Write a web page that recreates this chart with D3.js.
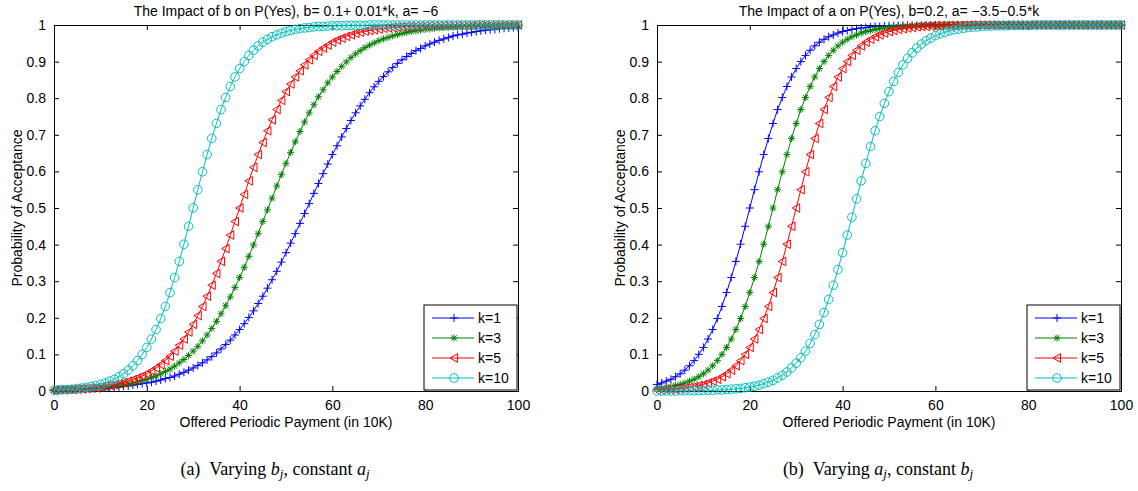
<!DOCTYPE html>
<html>
<head>
<meta charset="utf-8">
<script src="https://cdn.jsdelivr.net/npm/d3@7"></script>
<style>
body { margin: 0; background: #fff; }
svg text { font-family: "Liberation Sans", Arial, sans-serif; fill: #000; }
svg .caption { font-family: "Liberation Serif", "Times New Roman", serif; }
</style>
</head>
<body>
<svg width="1138" height="491"></svg>
<script>
// x grid: offered periodic payment, one sample per unit
const payment = d3.range(0, 101);

const seriesLabels = ['k=1', 'k=3', 'k=5', 'k=10'];
const xTicks = [0, 20, 40, 60, 80, 100];
const yTicks = [0, 0.1, 0.2, 0.3, 0.4, 0.5, 0.6, 0.7, 0.8, 0.9, 1];
const yTickLabels = ['0', '0.1', '0.2', '0.3', '0.4', '0.5', '0.6', '0.7', '0.8', '0.9', '1'];

// (a) varying b, a = -6
const varyB_k1 = [
  0.002,0.003,0.003,0.003,0.004,0.004,0.005,0.005,0.006,0.007,
  0.007,0.008,0.009,0.010,0.011,0.013,0.014,0.016,0.018,0.020,
  0.022,0.024,0.027,0.030,0.034,0.037,0.041,0.046,0.051,0.057,
  0.063,0.070,0.077,0.085,0.094,0.104,0.115,0.127,0.139,0.153,
  0.168,0.184,0.201,0.219,0.239,0.259,0.281,0.304,0.327,0.352,
  0.378,0.404,0.430,0.458,0.485,0.512,0.540,0.567,0.594,0.620,
  0.646,0.670,0.694,0.717,0.739,0.760,0.779,0.797,0.815,0.831,
  0.846,0.859,0.872,0.884,0.895,0.905,0.914,0.922,0.930,0.936,
  0.943,0.948,0.953,0.958,0.962,0.966,0.970,0.973,0.975,0.978,
  0.980,0.982,0.984,0.986,0.987,0.988,0.990,0.991,0.992,0.993,
  0.993];
const varyB_k3 = [
  0.002,0.003,0.003,0.004,0.004,0.005,0.005,0.006,0.007,0.008,
  0.009,0.010,0.012,0.013,0.015,0.017,0.019,0.022,0.025,0.028,
  0.032,0.037,0.041,0.047,0.053,0.060,0.068,0.077,0.086,0.097,
  0.109,0.122,0.137,0.153,0.171,0.190,0.211,0.233,0.257,0.283,
  0.310,0.338,0.368,0.399,0.430,0.463,0.495,0.527,0.560,0.591,
  0.622,0.652,0.681,0.709,0.735,0.760,0.782,0.804,0.823,0.842,
  0.858,0.873,0.887,0.899,0.911,0.921,0.930,0.938,0.945,0.951,
  0.957,0.962,0.966,0.970,0.974,0.977,0.980,0.982,0.984,0.986,
  0.988,0.989,0.991,0.992,0.993,0.994,0.994,0.995,0.996,0.996,
  0.997,0.997,0.997,0.998,0.998,0.998,0.998,0.999,0.999,0.999,
  0.999];
const varyB_k5 = [
  0.002,0.003,0.003,0.004,0.004,0.005,0.006,0.007,0.008,0.009,
  0.011,0.013,0.015,0.017,0.020,0.023,0.027,0.031,0.036,0.041,
  0.047,0.055,0.063,0.072,0.083,0.095,0.109,0.125,0.142,0.161,
  0.182,0.206,0.231,0.259,0.289,0.321,0.354,0.389,0.426,0.463,
  0.500,0.537,0.574,0.611,0.646,0.679,0.711,0.741,0.769,0.794,
  0.818,0.839,0.858,0.875,0.891,0.905,0.917,0.928,0.937,0.945,
  0.953,0.959,0.964,0.969,0.973,0.977,0.980,0.983,0.985,0.987,
  0.989,0.991,0.992,0.993,0.994,0.995,0.996,0.996,0.997,0.997,
  0.998,0.998,0.998,0.998,0.999,0.999,0.999,0.999,0.999,0.999,
  0.999,1,1,1,1,1,1,1,1,1,
  1];
const varyB_k10 = [
  0.002,0.003,0.004,0.004,0.005,0.007,0.008,0.010,0.012,0.015,
  0.018,0.022,0.027,0.032,0.039,0.047,0.057,0.069,0.083,0.100,
  0.119,0.142,0.168,0.198,0.231,0.269,0.310,0.354,0.401,0.450,
  0.500,0.550,0.599,0.646,0.690,0.731,0.769,0.802,0.832,0.858,
  0.881,0.900,0.917,0.931,0.943,0.953,0.961,0.968,0.973,0.978,
  0.982,0.985,0.988,0.990,0.992,0.993,0.995,0.996,0.996,0.997,
  0.998,0.998,0.998,0.999,0.999,0.999,0.999,0.999,1,1,
  1,1,1,1,1,1,1,1,1,1,
  1,1,1,1,1,1,1,1,1,1,
  1,1,1,1,1,1,1,1,1,1,
  1];

// (b) varying a, b = 0.2
const varyA_k1 = [
  0.018,0.022,0.027,0.032,0.039,0.047,0.057,0.069,0.083,0.100,
  0.119,0.142,0.168,0.198,0.231,0.269,0.310,0.354,0.401,0.450,
  0.500,0.550,0.599,0.646,0.690,0.731,0.769,0.802,0.832,0.858,
  0.881,0.900,0.917,0.931,0.943,0.953,0.961,0.968,0.973,0.978,
  0.982,0.985,0.988,0.990,0.992,0.993,0.995,0.996,0.996,0.997,
  0.998,0.998,0.998,0.999,0.999,0.999,0.999,0.999,1,1,
  1,1,1,1,1,1,1,1,1,1,
  1,1,1,1,1,1,1,1,1,1,
  1,1,1,1,1,1,1,1,1,1,
  1,1,1,1,1,1,1,1,1,1,
  1];
const varyA_k3 = [
  0.007,0.008,0.010,0.012,0.015,0.018,0.022,0.027,0.032,0.039,
  0.047,0.057,0.069,0.083,0.100,0.119,0.142,0.168,0.198,0.231,
  0.269,0.310,0.354,0.401,0.450,0.500,0.550,0.599,0.646,0.690,
  0.731,0.769,0.802,0.832,0.858,0.881,0.900,0.917,0.931,0.943,
  0.953,0.961,0.968,0.973,0.978,0.982,0.985,0.988,0.990,0.992,
  0.993,0.995,0.996,0.996,0.997,0.998,0.998,0.998,0.999,0.999,
  0.999,0.999,0.999,1,1,1,1,1,1,1,
  1,1,1,1,1,1,1,1,1,1,
  1,1,1,1,1,1,1,1,1,1,
  1,1,1,1,1,1,1,1,1,1,
  1];
const varyA_k5 = [
  0.002,0.003,0.004,0.004,0.005,0.007,0.008,0.010,0.012,0.015,
  0.018,0.022,0.027,0.032,0.039,0.047,0.057,0.069,0.083,0.100,
  0.119,0.142,0.168,0.198,0.231,0.269,0.310,0.354,0.401,0.450,
  0.500,0.550,0.599,0.646,0.690,0.731,0.769,0.802,0.832,0.858,
  0.881,0.900,0.917,0.931,0.943,0.953,0.961,0.968,0.973,0.978,
  0.982,0.985,0.988,0.990,0.992,0.993,0.995,0.996,0.996,0.997,
  0.998,0.998,0.998,0.999,0.999,0.999,0.999,0.999,1,1,
  1,1,1,1,1,1,1,1,1,1,
  1,1,1,1,1,1,1,1,1,1,
  1,1,1,1,1,1,1,1,1,1,
  1];
const varyA_k10 = [
  0,0,0,0,0,0.001,0.001,0.001,0.001,0.001,
  0.002,0.002,0.002,0.003,0.003,0.004,0.005,0.006,0.007,0.009,
  0.011,0.013,0.016,0.020,0.024,0.029,0.036,0.043,0.052,0.063,
  0.076,0.091,0.109,0.130,0.154,0.182,0.214,0.250,0.289,0.332,
  0.378,0.426,0.475,0.525,0.574,0.622,0.668,0.711,0.750,0.786,
  0.818,0.846,0.870,0.891,0.909,0.924,0.937,0.948,0.957,0.964,
  0.971,0.976,0.980,0.984,0.987,0.989,0.991,0.993,0.994,0.995,
  0.996,0.997,0.997,0.998,0.998,0.998,0.999,0.999,0.999,0.999,
  0.999,1,1,1,1,1,1,1,1,1,
  1,1,1,1,1,1,1,1,1,1,
  1];

const colors = ['#0000ff', '#008000', '#ff0000', '#00bfbf'];
const markers = ['plus', 'star', 'triangle', 'circle'];

const panels = [
  { title: 'The Impact of b on P(Yes), b= 0.1+ 0.01*k, a= \u22126',
    series: [varyB_k1, varyB_k3, varyB_k5, varyB_k10],
    left: 54, right: 518, caption: ['(a)', 'b', 'a'], capX: 275 },
  { title: 'The Impact of a on P(Yes), b=0.2, a= \u22123.5\u22120.5*k',
    series: [varyA_k1, varyA_k3, varyA_k5, varyA_k10],
    left: 657, right: 1121, caption: ['(b)', 'a', 'b'], capX: 878 }
];
const axTop = 25, axBottom = 391;
const fs = 14;

const svg = d3.select('svg');

function markerPath(type, x, y) {
  const p = d3.path();
  if (type === 'plus') {
    p.moveTo(x - 4, y); p.lineTo(x + 4, y);
    p.moveTo(x, y - 4); p.lineTo(x, y + 4);
  } else if (type === 'star') {
    p.moveTo(x - 3.5, y); p.lineTo(x + 3.5, y);
    p.moveTo(x, y - 3.5); p.lineTo(x, y + 3.5);
    p.moveTo(x - 2.6, y - 2.6); p.lineTo(x + 2.6, y + 2.6);
    p.moveTo(x - 2.6, y + 2.6); p.lineTo(x + 2.6, y - 2.6);
  } else if (type === 'triangle') {
    p.moveTo(x - 4, y); p.lineTo(x + 3.5, y - 4.3); p.lineTo(x + 3.5, y + 4.3); p.closePath();
  } else {
    p.moveTo(x + 4.3, y); p.arc(x, y, 4.3, 0, 2 * Math.PI);
  }
  return p.toString();
}

panels.forEach(panel => {
  const x = d3.scaleLinear().domain([0, 100]).range([panel.left, panel.right]);
  const y = d3.scaleLinear().domain([0, 1]).range([axBottom, axTop]);
  const g = svg.append('g');

  // axes box with inward ticks on all sides
  g.append('g').attr('transform', `translate(0,${axBottom})`)
    .call(d3.axisBottom(x).tickValues(xTicks).tickSize(-5).tickPadding(9));
  g.append('g').attr('transform', `translate(0,${axTop})`)
    .call(d3.axisTop(x).tickValues(xTicks).tickSize(-5).tickFormat(''));
  g.append('g').attr('transform', `translate(${panel.left},0)`)
    .call(d3.axisLeft(y).tickValues(yTicks).tickSize(-5).tickPadding(8)
      .tickFormat((d, i) => yTickLabels[i]));
  g.append('g').attr('transform', `translate(${panel.right},0)`)
    .call(d3.axisRight(y).tickValues(yTicks).tickSize(-5).tickFormat(''));
  g.selectAll('.domain').attr('stroke', '#000').attr('stroke-width', 1);
  g.selectAll('.tick line').attr('stroke', '#000');
  g.selectAll('.tick text').attr('font-size', fs)
    .attr('font-family', '"Liberation Sans", Arial, sans-serif');

  // series: line then markers, in plotting order
  panel.series.forEach((vals, si) => {
    const pts = payment.map((p, i) => [x(p), y(vals[i])]);
    g.append('path')
      .attr('d', d3.line()(pts))
      .attr('fill', 'none').attr('stroke', colors[si]).attr('stroke-width', 1);
    g.append('g').selectAll('path').data(pts).join('path')
      .attr('d', d => markerPath(markers[si], d[0], d[1]))
      .attr('fill', 'none').attr('stroke', colors[si]).attr('stroke-width', 1);
  });

  // title and axis labels
  svg.append('text').attr('x', (panel.left + panel.right) / 2).attr('y', 16)
    .attr('text-anchor', 'middle').attr('font-size', fs).text(panel.title);
  svg.append('text').attr('x', (panel.left + panel.right) / 2).attr('y', 427)
    .attr('text-anchor', 'middle').attr('font-size', fs)
    .text('Offered Periodic Payment (in 10K)');
  svg.append('text')
    .attr('transform', `translate(${panel.left - 32},${(axTop + axBottom) / 2}) rotate(-90)`)
    .attr('text-anchor', 'middle').attr('font-size', fs)
    .text('Probability of Acceptance');

  // legend
  const lw = 93, lh = 85;
  const lx = panel.right - lw - 1, ly = axBottom - lh - 1;
  const leg = svg.append('g').attr('transform', `translate(${lx},${ly})`);
  leg.append('rect').attr('width', lw).attr('height', lh)
    .attr('fill', '#fff').attr('stroke', '#000').attr('stroke-width', 1);
  seriesLabels.forEach((lab, si) => {
    const ry = 13 + si * 20;
    leg.append('line').attr('x1', 8).attr('x2', 50).attr('y1', ry).attr('y2', ry)
      .attr('stroke', colors[si]).attr('stroke-width', 1);
    leg.append('path').attr('d', markerPath(markers[si], 30, ry))
      .attr('fill', 'none').attr('stroke', colors[si]).attr('stroke-width', 1);
    leg.append('text').attr('x', 54).attr('y', ry + 5).attr('font-size', fs).text(lab);
  });

  // caption
  const cap = svg.append('text').attr('class', 'caption')
    .attr('x', panel.capX).attr('y', 475).attr('text-anchor', 'middle').attr('font-size', 18);
  cap.append('tspan').text(panel.caption[0] + '\u2002Varying ');
  cap.append('tspan').attr('font-style', 'italic').text(panel.caption[1]);
  cap.append('tspan').attr('font-style', 'italic').attr('font-size', 13).attr('dy', 3).text('j');
  cap.append('tspan').attr('dy', -3).text(', constant ');
  cap.append('tspan').attr('font-style', 'italic').text(panel.caption[2]);
  cap.append('tspan').attr('font-style', 'italic').attr('font-size', 13).attr('dy', 3).text('j');
});
</script>
</body>
</html>
